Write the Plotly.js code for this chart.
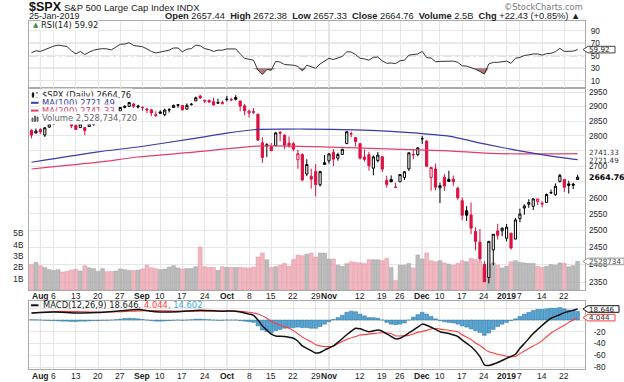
<!DOCTYPE html>
<html><head><meta charset="utf-8">
<script src="https://cdn.plot.ly/plotly-3.0.1.min.js"></script>
<style>html,body{margin:0;padding:0;background:#fff;}#chart{width:624px;height:382px;}</style>
</head><body><div id="chart"></div>
<script>
// ---------------- DATA ----------------
const dates = [
'2018-07-30','2018-07-31','2018-08-01','2018-08-02','2018-08-03',
'2018-08-06','2018-08-07','2018-08-08','2018-08-09','2018-08-10',
'2018-08-13','2018-08-14','2018-08-15','2018-08-16','2018-08-17',
'2018-08-20','2018-08-21','2018-08-22','2018-08-23','2018-08-24',
'2018-08-27','2018-08-28','2018-08-29','2018-08-30','2018-08-31',
'2018-09-04','2018-09-05','2018-09-06','2018-09-07',
'2018-09-10','2018-09-11','2018-09-12','2018-09-13','2018-09-14',
'2018-09-17','2018-09-18','2018-09-19','2018-09-20','2018-09-21',
'2018-09-24','2018-09-25','2018-09-26','2018-09-27','2018-09-28',
'2018-10-01','2018-10-02','2018-10-03','2018-10-04','2018-10-05',
'2018-10-08','2018-10-09','2018-10-10','2018-10-11','2018-10-12',
'2018-10-15','2018-10-16','2018-10-17','2018-10-18','2018-10-19',
'2018-10-22','2018-10-23','2018-10-24','2018-10-25','2018-10-26',
'2018-10-29','2018-10-30','2018-10-31',
'2018-11-01','2018-11-02',
'2018-11-05','2018-11-06','2018-11-07','2018-11-08','2018-11-09',
'2018-11-12','2018-11-13','2018-11-14','2018-11-15','2018-11-16',
'2018-11-19','2018-11-20','2018-11-21','2018-11-23',
'2018-11-26','2018-11-27','2018-11-28','2018-11-29','2018-11-30',
'2018-12-03','2018-12-04','2018-12-06','2018-12-07',
'2018-12-10','2018-12-11','2018-12-12','2018-12-13','2018-12-14',
'2018-12-17','2018-12-18','2018-12-19','2018-12-20','2018-12-21',
'2018-12-24','2018-12-26','2018-12-27','2018-12-28','2018-12-31',
'2019-01-02','2019-01-03','2019-01-04',
'2019-01-07','2019-01-08','2019-01-09','2019-01-10','2019-01-11',
'2019-01-14','2019-01-15','2019-01-16','2019-01-17','2019-01-18',
'2019-01-22','2019-01-23','2019-01-24','2019-01-25'];

const prevClose = 2818.82;

const open = [
2819.00,2809.73,2821.17,2802.60,2829.62,
2840.29,2855.92,2856.79,2857.19,2838.90,
2835.46,2827.88,2827.95,2831.44,2838.32,
2853.93,2861.51,2860.99,2860.29,2862.35,
2884.69,2901.45,2900.62,2908.94,2898.37,
2896.96,2891.59,2888.64,2868.26,
2881.39,2871.57,2888.29,2896.85,2906.38,
2903.83,2890.74,2906.60,2919.73,2936.76,
2921.83,2921.75,2916.98,2911.65,2910.03,
2926.29,2923.80,2931.69,2919.35,2902.54,
2877.53,2882.51,2873.90,2776.87,2770.54,
2763.83,2767.05,2811.67,2802.00,2775.66,
2773.94,2721.03,2737.87,2674.88,2667.86,
2682.65,2640.68,2705.60,
2717.58,2745.45,
2726.37,2738.40,2774.13,2806.38,2794.10,
2773.93,2730.05,2737.90,2693.52,2718.54,
2730.74,2654.60,2657.74,2633.36,
2649.97,2663.75,2691.45,2736.97,2737.76,
2790.50,2782.43,2663.51,2691.26,
2630.86,2664.44,2658.23,2658.70,2629.68,
2590.75,2559.90,2547.05,2496.77,2465.38,
2400.56,2363.12,2442.50,2498.77,2498.94,
2476.96,2491.92,2474.33,
2535.61,2568.11,2580.00,2573.51,2588.11,
2580.31,2585.10,2614.75,2609.28,2651.27,
2657.88,2643.48,2638.84,2657.44];

const high = [
2821.74,2824.46,2825.83,2829.91,2840.38,
2853.29,2863.43,2862.44,2862.48,2842.20,
2843.40,2843.11,2827.95,2850.49,2855.63,
2859.76,2873.23,2867.54,2868.78,2876.16,
2898.25,2903.77,2916.50,2912.46,2906.32,
2900.18,2894.21,2892.05,2883.81,
2886.93,2892.52,2894.65,2906.76,2908.30,
2904.65,2911.17,2912.36,2934.80,2940.91,
2923.79,2923.95,2931.15,2927.22,2920.53,
2937.06,2931.42,2939.86,2919.78,2909.64,
2889.45,2894.83,2874.02,2795.14,2775.77,
2775.99,2813.46,2816.94,2806.04,2797.77,
2778.94,2753.59,2742.59,2722.70,2692.38,
2706.85,2685.43,2736.69,
2741.67,2756.55,
2744.27,2756.82,2815.15,2814.75,2794.10,
2775.99,2754.60,2746.80,2735.38,2746.75,
2733.16,2669.44,2670.73,2647.55,
2674.35,2682.53,2744.00,2753.75,2760.88,
2800.18,2785.93,2696.15,2708.54,
2647.51,2674.35,2685.44,2670.19,2635.07,
2601.13,2573.99,2585.29,2509.63,2504.41,
2410.34,2467.76,2489.10,2520.27,2509.24,
2519.49,2493.14,2538.07,
2566.16,2579.82,2595.32,2597.82,2596.27,
2589.32,2613.08,2625.76,2645.06,2675.47,
2657.88,2653.19,2647.20,2672.38];

const low = [
2791.47,2808.06,2805.85,2796.34,2827.37,
2835.98,2855.92,2853.09,2851.98,2825.81,
2819.88,2826.58,2802.49,2831.44,2833.73,
2850.62,2861.32,2856.05,2854.03,2862.35,
2884.69,2893.50,2898.40,2895.22,2893.67,
2885.13,2876.92,2867.29,2864.12,
2875.94,2866.78,2879.20,2896.39,2895.77,
2886.16,2890.43,2903.82,2919.73,2927.11,
2912.63,2913.70,2903.28,2909.27,2907.50,
2917.91,2919.37,2921.36,2883.92,2869.29,
2862.08,2874.27,2784.86,2710.51,2729.44,
2749.03,2766.91,2781.81,2755.18,2760.27,
2749.22,2691.43,2651.89,2667.84,2628.16,
2603.54,2635.34,2705.60,
2708.85,2700.44,
2717.94,2737.08,2774.13,2794.99,2764.24,
2722.00,2714.98,2685.75,2670.75,2712.16,
2681.09,2631.52,2649.82,2631.09,
2649.97,2655.89,2684.38,2722.94,2732.76,
2773.38,2697.18,2621.53,2623.14,
2583.23,2621.30,2650.26,2637.27,2593.84,
2530.54,2528.71,2488.96,2441.18,2408.55,
2351.10,2346.58,2397.94,2472.89,2482.82,
2467.47,2443.96,2474.33,
2524.56,2547.56,2568.89,2562.02,2577.40,
2570.41,2585.10,2612.68,2606.36,2647.58,
2617.27,2612.86,2627.01,2657.33];

const close = [
2802.60,2816.29,2813.36,2827.22,2840.35,
2850.40,2858.45,2857.70,2853.58,2833.28,
2821.93,2839.96,2818.37,2840.69,2850.13,
2857.05,2862.96,2861.82,2856.98,2874.69,
2896.74,2897.52,2914.04,2901.13,2901.52,
2896.72,2888.60,2878.05,2871.68,
2877.13,2887.89,2888.92,2904.18,2904.98,
2888.80,2904.31,2907.95,2930.75,2929.67,
2919.37,2915.56,2905.97,2914.00,2913.98,
2924.59,2923.43,2925.51,2901.61,2885.57,
2884.43,2880.34,2785.68,2728.37,2767.13,
2750.79,2809.92,2809.21,2768.78,2767.78,
2755.88,2740.69,2656.10,2705.57,2658.69,
2641.25,2682.63,2711.74,
2740.37,2723.06,
2738.31,2755.45,2813.89,2806.83,2781.01,
2726.22,2722.18,2701.58,2730.20,2736.27,
2690.73,2641.89,2649.93,2632.56,
2673.45,2682.17,2743.79,2737.80,2760.17,
2790.37,2700.06,2695.95,2633.08,
2637.72,2636.78,2651.07,2650.54,2599.95,
2545.94,2546.16,2506.96,2467.42,2416.62,
2351.10,2467.70,2488.83,2485.74,2506.85,
2510.03,2447.89,2531.94,
2549.69,2574.41,2584.96,2596.64,2596.26,
2582.61,2610.30,2616.10,2635.96,2670.71,
2632.90,2638.70,2642.33,2664.76];

// volume in billions of shares
const volumeB = [
2.24,2.44,2.15,2.00,1.80,
1.73,1.80,1.59,1.65,1.77,
1.83,1.68,2.15,1.97,1.89,
1.65,1.89,1.62,1.65,1.68,
1.86,1.80,1.74,1.71,1.77,
1.86,2.20,1.97,1.89,
1.80,1.86,2.03,2.15,1.95,
1.86,1.90,1.90,2.06,3.80,
2.06,2.00,2.00,1.75,2.06,
2.00,2.00,2.00,2.00,1.97,
1.95,2.03,2.92,3.27,2.68,
2.00,2.06,2.20,2.35,2.10,
2.70,3.10,3.03,3.18,3.27,
2.92,3.27,3.27,
2.74,2.74,
2.20,2.09,2.33,2.50,2.45,
2.40,2.33,2.68,2.68,2.68,
2.60,2.80,2.00,0.85,
2.20,2.20,2.35,1.95,3.10,
2.74,3.27,2.60,2.50,
2.60,2.40,2.30,2.20,2.35,
2.60,2.50,2.80,2.70,2.50,
1.90,2.30,2.40,2.20,1.95,
2.10,2.50,2.60,
2.45,2.40,2.35,2.35,2.10,
2.00,2.10,2.25,2.20,2.40,
2.35,2.05,2.15,2.53];

const rsi14 = [
55,58,57,60,63,
65.5,67,66.5,65,58,
53,57,52,56,59,
60.5,61.5,61,59.5,64,
68.5,68.8,71,66.5,66,
64.5,61,57,54.5,
56,58.5,59,62.5,62.5,
56.5,60.5,61.5,67,66,
61.5,60,57,59,59,
61,60.5,61,53,46,
44.5,43,27,20,28,
27,41,40,36,35.5,
35,33,26,35,32,
30,37,41,
46,44,
47,49,56.5,56,52,
46,45,43,47.5,48,
42,38,38.5,37.5,
42,43,51,51.5,53,
57,47,46.5,40.5,
41,41,42,41.5,39.5,
34,33.5,31.5,28.5,25,
21,37,39.5,39.5,41,
41.5,38,46,
47.5,50.5,51.5,53,53,
51,53.5,54,56.5,62,
57,57,57.5,59.92];

const ma100Dates = ['2018-07-30','2018-08-20','2018-08-31','2018-09-19','2018-10-01','2018-10-10','2018-10-19','2018-10-25','2018-11-09','2018-11-20','2018-11-30','2018-12-12','2018-12-24','2019-01-07','2019-01-16','2019-01-25'];
const ma100Vals  = [2713,2747,2763,2790,2809,2822,2823,2823,2820,2816,2809,2799,2773,2750,2733,2721.49];
const ma200Dates = ['2018-07-30','2018-08-20','2018-08-31','2018-09-19','2018-10-10','2018-10-19','2018-11-09','2018-11-20','2018-12-12','2018-12-24','2019-01-07','2019-01-25'];
const ma200Vals  = [2691,2713,2730,2745,2766,2766,2760,2757,2750,2743,2740,2741.33];

const macdDates = ['2018-07-30','2018-08-06','2018-08-13','2018-08-20','2018-08-27','2018-08-31','2018-09-07','2018-09-14','2018-09-21','2018-09-28',
'2018-10-03','2018-10-05','2018-10-08','2018-10-09','2018-10-10','2018-10-11','2018-10-12','2018-10-15','2018-10-16','2018-10-18',
'2018-10-22','2018-10-23','2018-10-24','2018-10-26','2018-10-29','2018-10-30','2018-10-31','2018-11-02','2018-11-05','2018-11-07',
'2018-11-09','2018-11-12','2018-11-14','2018-11-16','2018-11-19','2018-11-21','2018-11-23','2018-11-26','2018-11-28','2018-11-30',
'2018-12-03','2018-12-04','2018-12-07','2018-12-10','2018-12-12','2018-12-14','2018-12-17','2018-12-19','2018-12-21','2018-12-24',
'2018-12-26','2018-12-28','2019-01-02','2019-01-04','2019-01-07','2019-01-08','2019-01-10','2019-01-11','2019-01-14','2019-01-16',
'2019-01-18','2019-01-22','2019-01-24','2019-01-25'];
const macdVals = [12,13.5,12,12.5,15.5,18,14,14,16.5,15,
15,12,10,8,0,-10,-17,-24,-27,-28,
-31,-36,-44,-52,-56,-55,-51,-44,-38,-25,
-14,-15,-20,-17,-19,-28,-32,-31,-22,-12,
-7,-9,-16,-19.8,-23,-28,-34,-45,-62,-76,
-77,-72,-65,-58,-48,-40,-23,-16,-9,3,
9,12.5,16.5,18.646];

const signalDates = ['2018-07-30','2018-08-06','2018-08-13','2018-08-20','2018-08-27','2018-08-31','2018-09-07','2018-09-14','2018-09-21','2018-09-28',
'2018-10-03','2018-10-08','2018-10-10','2018-10-12','2018-10-15','2018-10-17','2018-10-19','2018-10-22','2018-10-24','2018-10-26',
'2018-10-29','2018-10-31','2018-11-02','2018-11-05','2018-11-07','2018-11-09','2018-11-12','2018-11-14','2018-11-16','2018-11-19',
'2018-11-21','2018-11-23','2018-11-26','2018-11-28','2018-11-30','2018-12-03','2018-12-07','2018-12-10','2018-12-12','2018-12-14',
'2018-12-17','2018-12-19','2018-12-20','2018-12-21','2018-12-24','2018-12-26','2018-12-28','2019-01-02','2019-01-04','2019-01-07',
'2019-01-10','2019-01-11','2019-01-14','2019-01-16','2019-01-18','2019-01-22','2019-01-23','2019-01-24','2019-01-25'];
const signalVals = [11.5,14.5,14.5,13.5,14,15.5,16,15,15,15,
15,13,10,3,-2,-9,-14,-18,-29,-37,
-42,-45,-44,-40,-33,-28,-25.5,-24,-22,-21.5,
-23,-27,-27,-26,-21,-19.5,-14,-15.5,-17.5,-20,
-25,-33,-39,-43,-49,-54,-58,-61.5,-62,-57,
-44,-40,-35,-22,-13,-9,-4,0,4.044];

const macdHist = [
0.5,0.3,0,-0.5,-0.8,
-1,-1.5,-2,-2,-2.5,
-2.5,-2,-2,-1.5,-1,
-1,-0.5,-0.5,0,0.5,
1.5,2.5,3,2.5,2,
1,0,-1,-2,
-2,-1.5,-1,-0.5,0,
-0.5,0,0.5,1.5,1.5,
1,0.5,0,-0.5,-0.5,
0,0,0,-1,-2,
-3,-4,-10,-17,-20,
-22,-18,-16,-14,-13,
-13,-12,-13,-13,-14,
-14,-11,-7,
-3,1,
4,8,13,15,14,
10,7,4,4,3,
0,-4,-7,-8,
-7,-5,0,5,9,
13,10,6,2,
-1,-3,-4,-5,-7,
-10,-12,-15,-18,-21,
-26,-22,-16,-11,-7,
-4,-1,2,
6,10,13,16,18,
18,19,20,20,21,
19,17,16,14.602];

const tickDates = ['2018-08-01','2018-08-06','2018-08-13','2018-08-20','2018-08-27','2018-09-04','2018-09-10','2018-09-17','2018-09-24',
'2018-10-01','2018-10-08','2018-10-15','2018-10-22','2018-10-29','2018-11-01','2018-11-12','2018-11-19','2018-11-26',
'2018-12-03','2018-12-10','2018-12-17','2018-12-24','2019-01-02','2019-01-07','2019-01-14','2019-01-22'];
const tickLabels = ['<b>Aug</b>','6','13','20','27','<b>Sep</b>','10','17','24',
'<b>Oct</b>','8','15','22','29','<b>Nov</b>','12','19','26',
'<b>Dec</b>','10','17','24','<b>2019</b>','7','14','22'];
const monthDates = ['2018-08-01','2018-09-04','2018-10-01','2018-11-01','2018-12-03','2019-01-02'];

const priceTicks = [2350,2400,2450,2500,2550,2600,2650,2700,2750,2800,2850,2900,2950];
const priceTickText = ['2350','2400','2450','2500','2550','2600','','2700','','2800','2850','2900','2950'];
const volTicks = [1,2,3,4,5];
const volTickText = ['1B','2B','3B','4B','5B'];
const rsiTicks = [10,30,50,70,90];
const macdTicks = [20,0,-20,-40,-60,-80];
const macdTickText = ['','','-20','-40','-60','-80'];

// ---------------- BUILD ----------------
const W=624,H=382;
const px = x => x/W, py = y => 1 - y/H;
const pos = d => dates.indexOf(d);
const xi = dates.map((d,i)=>i);
const xr = [-0.56, 124.66];
const xdom = [px(29), px(585)];
const rsiDom = [py(88), py(21)];
const priceDom = [py(290), py(88)];
const macdDom = [py(369), py(301)];

const RED = '#dd1140', BLACK = '#000000';
const prev = [prevClose].concat(close.slice(0,-1));
const upIds = [], dnIds = [];
close.forEach((c,i)=>{ (c>=prev[i]?upIds:dnIds).push(i); });

function candles(ids,color){
  return {type:'candlestick', x:ids.map(i=>xi[i]), open:ids.map(i=>open[i]), high:ids.map(i=>high[i]),
    low:ids.map(i=>low[i]), close:ids.map(i=>close[i]), xaxis:'x', yaxis:'y2',
    increasing:{line:{color:color,width:1}, fillcolor:'#ffffff'},
    decreasing:{line:{color:color,width:1}, fillcolor:color},
    whiskerwidth:0, hoverinfo:'skip', showlegend:false};
}

const traces = [
  {type:'bar', x:xi, y:volumeB, xaxis:'x', yaxis:'y', width:0.86,
   marker:{color:close.map((c,i)=>c>=prev[i]?'rgba(175,175,175,0.85)':'rgba(236,160,172,0.75)'),
           line:{color:close.map((c,i)=>c>=prev[i]?'#a0a0a0':'#e090a0'),width:0.5}}, hoverinfo:'skip'},
  {type:'scatter', mode:'lines', x:ma200Dates.map(pos), y:ma200Vals, xaxis:'x', yaxis:'y2',
   line:{color:'#e0406a',width:1.2,shape:'spline',smoothing:0.6}, hoverinfo:'skip'},
  {type:'scatter', mode:'lines', x:ma100Dates.map(pos), y:ma100Vals, xaxis:'x', yaxis:'y2',
   line:{color:'#3a3aaa',width:1.2,shape:'spline',smoothing:0.6}, hoverinfo:'skip'},
  candles(upIds, BLACK),
  candles(dnIds, RED),
  // RSI
  {type:'scatter', mode:'lines', x:xi, y:xi.map(()=>30), xaxis:'x2', yaxis:'y3', line:{width:0,color:'rgba(0,0,0,0)'}, hoverinfo:'skip'},
  {type:'scatter', mode:'lines', x:xi, y:rsi14.map(v=>Math.min(v,30)), xaxis:'x2', yaxis:'y3', fill:'tonexty',
   fillcolor:'rgba(150,80,80,0.75)', line:{width:0,color:'rgba(0,0,0,0)'}, hoverinfo:'skip'},
  {type:'scatter', mode:'lines', x:xi, y:rsi14, xaxis:'x2', yaxis:'y3', line:{color:'#333',width:1}, hoverinfo:'skip'},
  // MACD
  {type:'bar', x:xi, y:macdHist, xaxis:'x3', yaxis:'y4', width:0.85,
   marker:{color:'#54a4d4', line:{color:'#2a6e9c',width:0.5}}, hoverinfo:'skip'},
  {type:'scatter', mode:'lines', x:signalDates.map(pos), y:signalVals, xaxis:'x3', yaxis:'y4',
   line:{color:'#ff3a3a',width:1.1,shape:'spline',smoothing:0.5}, hoverinfo:'skip'},
  {type:'scatter', mode:'lines', x:macdDates.map(pos), y:macdVals, xaxis:'x3', yaxis:'y4',
   line:{color:'#111',width:1.5,shape:'spline',smoothing:0.5}, hoverinfo:'skip'}
];

const tickV = tickDates.map(pos);
const GRID = '#e6e6e6', BORDER = '#aaaaaa';
const xBase = {domain:xdom, range:xr, tickvals:tickV, showticklabels:false, showgrid:true, gridcolor:GRID,
  zeroline:false, ticks:'', showline:true, mirror:true, linecolor:BORDER, linewidth:1, fixedrange:true};
const tf = {family:'Liberation Sans, Arial', size:8.2, color:'#222'};

const layout = {
  width:W, height:H, margin:{l:0,r:0,t:0,b:0}, paper_bgcolor:'#fff', plot_bgcolor:'#fff',
  showlegend:false, font:{family:'Liberation Sans, Arial, sans-serif', size:8.5, color:'#222'},
  bargap:0.1, boxgap:0.3,
  xaxis: Object.assign({}, xBase, {anchor:'y', rangeslider:{visible:false}}),
  yaxis: {domain:priceDom, range:[0,17.88], side:'left', tickvals:volTicks, ticktext:volTickText, showgrid:false,
    zeroline:false, ticks:'', showline:true, mirror:true, linecolor:BORDER, tickfont:tf, ticklabelstandoff:3, fixedrange:true},
  yaxis2: {domain:priceDom, overlaying:'y', anchor:'x', type:'log', range:[Math.log10(2328.0), Math.log10(2965.2)], side:'right',
    tickvals:priceTicks, ticktext:priceTickText, showgrid:true, gridcolor:GRID, zeroline:false, ticks:'',
    tickfont:tf, ticklabelstandoff:3, fixedrange:true},
  xaxis2: Object.assign({}, xBase, {anchor:'y3'}),
  yaxis3: {domain:rsiDom, anchor:'x2', range:[-1.52,105.7], side:'right', tickvals:rsiTicks, showgrid:true, gridcolor:GRID,
    zeroline:false, ticks:'', showline:true, mirror:true, linecolor:BORDER, tickfont:tf, ticklabelstandoff:3, fixedrange:true},
  xaxis3: Object.assign({}, xBase, {anchor:'y4'}),
  yaxis4: {domain:macdDom, anchor:'x3', range:[-83.05,32.2], side:'right', tickvals:macdTicks, ticktext:macdTickText, showgrid:true, gridcolor:GRID,
    zeroline:false, ticks:'', showline:true, mirror:true, linecolor:BORDER, tickfont:tf, ticklabelstandoff:6, fixedrange:true},
  shapes:[], annotations:[]
};

// month separator lines
[['x','y domain'],['x2','y3 domain'],['x3','y4 domain']].forEach(([xa,ya])=>{
  monthDates.forEach(d=>layout.shapes.push({type:'line', xref:xa, yref:ya, x0:pos(d), x1:pos(d), y0:0, y1:1,
    line:{color:'#c4c4c4',width:1}, layer:'below'}));
});
// RSI reference lines
[30,70].forEach(v=>layout.shapes.push({type:'line', xref:'x2 domain', yref:'y3', x0:0, x1:1, y0:v, y1:v, line:{color:'#999',width:1}, layer:'below'}));
layout.shapes.push({type:'line', xref:'x2 domain', yref:'y3', x0:0, x1:1, y0:50, y1:50, line:{color:'#999',width:1,dash:'dashdot'}, layer:'below'});

// date labels under the price panel and under the MACD panel (placed on the shared x scale)
['x','x3'].forEach((xa,k)=>{
  tickV.forEach((v,j)=>layout.annotations.push({xref:xa, yref:'paper', x:v, y:py(k===0?295.5:375.5), text:tickLabels[j],
    showarrow:false, xanchor:'center', yanchor:'middle', font:{family:'Liberation Sans, Arial', size:8.5, color:'#222'}, borderpad:0}));
});

function ann(x,y,text,o){
  o=o||{};
  layout.annotations.push(Object.assign({xref:'paper', yref:'paper', x:px(x), y:py(y), text:text, showarrow:false,
    xanchor:'left', yanchor:'middle', font:{family:'Liberation Sans, Arial', size:9, color:'#222'}}, o));
}
function rectPx(x0,y0,x1,y1,color,fill){
  layout.shapes.push({type:'rect', xref:'paper', yref:'paper', x0:px(x0), x1:px(x1), y0:py(y0), y1:py(y1),
    line:{color:color,width:1}, fillcolor:fill||color, layer:'above'});
}
function linePx(x0,y0,x1,y1,color,w){
  layout.shapes.push({type:'line', xref:'paper', yref:'paper', x0:px(x0), x1:px(x1), y0:py(y0), y1:py(y1),
    line:{color:color,width:w||1}, layer:'above'});
}
function tag(yref,yval,text,border,color,w,bold,fs){
  layout.shapes.push({type:'path', xref:'paper', yref:yref, xsizemode:'pixel', ysizemode:'pixel', xanchor:px(583), yanchor:yval,
    path:`M0,0L5,-3.3L${w},-3.3L${w},3.3L5,3.3Z`, line:{color:border,width:1}, fillcolor:'#ffffff', layer:'above'});
  layout.annotations.push({xref:'paper', yref:yref, x:px(588), y:yval, xanchor:'left', yanchor:'middle', showarrow:false,
    text:bold?'<b>'+text+'</b>':text, font:{family:'DejaVu Sans', size:fs||7.2, color:color}, borderpad:0});
}

// header
ann(27,7,'<b>$SPX</b>',{font:{family:'Liberation Sans, Arial', size:12.5, color:'#111'}});
ann(62,7,'S&P 500 Large Cap Index INDX',{font:{family:'Liberation Sans, Arial', size:9.5, color:'#222'}});
ann(27,16,'25-Jan-2019',{font:{family:'Liberation Sans, Arial', size:9, color:'#222'}});
ann(582,16,'<b>Open</b> 2657.44  <b>High</b> 2672.38  <b>Low</b> 2657.33  <b>Close</b> 2664.76  <b>Volume</b> 2.5B  <b>Chg</b> +22.43 (+0.85%) ▲',
  {xanchor:'right', font:{family:'Liberation Sans, Arial', size:9.3, color:'#222'}});
ann(585,6.5,'©StockCharts.com',{xanchor:'right', font:{family:'DejaVu Sans', size:8.3, color:'#777'}});

// panel legends
const LF = {family:'DejaVu Sans', size:8.4, color:'#222'};
ann(31,25.5,'▲',{font:{family:'DejaVu Sans', size:7, color:'#4a8a4a'}});
ann(40,25.5,'RSI(14) 59.92',{font:LF, bgcolor:'#ffffff', borderpad:0});
ann(40,95,'$SPX (Daily) 2664.76',{font:LF, bgcolor:'#ffffff', borderpad:1});
ann(40,102.8,'MA(100) 2721.49',{font:Object.assign({},LF,{color:'#3a3aaa'}), bgcolor:'#ffffff', borderpad:1});
ann(40,110.6,'MA(200) 2741.33',{font:Object.assign({},LF,{color:'#e0406a'}), bgcolor:'#ffffff', borderpad:1});
ann(40,118.4,'Volume 2,528,734,720',{font:Object.assign({},LF,{color:'#666'}), bgcolor:'#ffffff', borderpad:1});
ann(41,305.3,'MACD(12,26,9) 18.646<span style="color:#ff3a3a">, 4.044</span><span style="color:#3aa6d8">, 14.602</span>',{font:LF});
// legend icons
rectPx(31,91.5,39.5,98.5,'#ffffff','#ffffff');
linePx(33,92,33,98,'#111',1); rectPx(32.3,93.5,33.7,96.5,'#111');
linePx(37,92,37,98,'#111',1); rectPx(36.3,94,37.7,97,'#ffffff');
linePx(31,102.8,38.5,102.8,'#3a3aaa',2);
linePx(31,110.6,38.5,110.6,'#e0406a',2);
rectPx(31,115,39.5,122,'#ffffff','#ffffff');
rectPx(32,118,33,121.5,'#666'); rectPx(34.5,116,35.5,121.5,'#666'); rectPx(37,117,38,121.5,'#666');
linePx(31,305.3,38.5,305.3,'#111',2);

// right value tags (MA tags nudged ~1px apart so they just touch, as in the reference)
tag('y3',59.92,'59.92','#444','#222',32);
tag('y2',Math.log10(2741.33)+0.0006,'2741.33','#e0406a','#333',40);
tag('y2',Math.log10(2721.49)-0.0006,'2721.49','#3a3aaa','#333',40);
tag('y2',Math.log10(2664.76),'2664.76','#111','#000',41,true,7.8);
tag('y',2.53,'2528734','#999','#444',41);
tag('y4',18.646,'18.646','#111','#222',36);
tag('y4',4.044,'4.044','#ff3a3a','#333',32);

Plotly.newPlot('chart', traces, layout, {staticPlot:true, displayModeBar:false});
</script>
</body></html>
